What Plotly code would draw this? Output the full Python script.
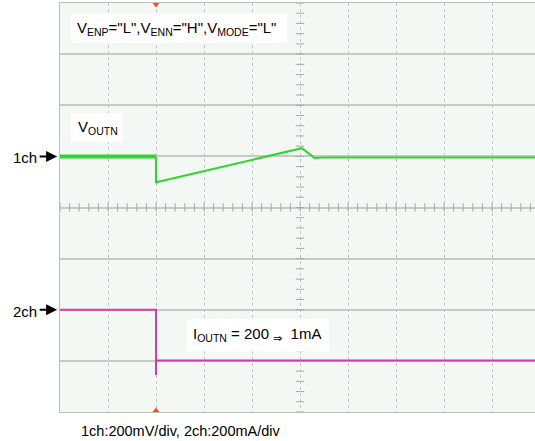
import plotly.graph_objects as go

# scope settings
mv_per_div = 200   # 1ch
ma_per_div = 200   # 2ch
ch1_pos = 1.0      # ground marker of 1ch (div)
ch2_pos = -3.0     # ground marker of 2ch (div)

# 1ch: VOUTN deviation (mV) vs time (div)
ch1_t_pre = [0.0, 2.0]
ch1_mv_pre = [0, 0]
ch1_t = [2.0, 2.0, 2.03, 5.04, 5.3, 5.5, 9.9]
ch1_mv = [0, -104, -100, 32, -6, -4, -4]

# 2ch: IOUTN (mA) vs time (div)
ch2_t = [0.0, 2.0, 2.0, 2.0, 9.9]
ch2_ma = [200, 200, -55, 1, 1]

trig_t = 2.0

font = "Arial, Liberation Sans, sans-serif"
grid = "#c4c4c4"
tickc = "#a8a8a8"

fig = go.Figure()

# minor ticks on the centre cross
tx = [i * 0.2 for i in range(0, 50)]
ty = [-4 + i * 0.2 for i in range(0, 41)]
fig.add_trace(go.Scatter(x=tx, y=[0] * len(tx), mode="markers",
                         marker=dict(symbol="line-ns-open", size=6, color=tickc, line=dict(width=1, color=tickc)),
                         hoverinfo="skip", showlegend=False))
fig.add_trace(go.Scatter(x=[5] * len(ty), y=ty, mode="markers",
                         marker=dict(symbol="line-ew-open", size=6, color=tickc, line=dict(width=1, color=tickc)),
                         hoverinfo="skip", showlegend=False))

fig.add_trace(go.Scatter(x=ch1_t_pre, y=[ch1_pos + v / mv_per_div for v in ch1_mv_pre],
                         mode="lines", line=dict(color="#2ed62e", width=4), showlegend=False))
fig.add_trace(go.Scatter(x=ch1_t, y=[ch1_pos + v / mv_per_div for v in ch1_mv],
                         mode="lines", line=dict(color="#2ed62e", width=2), showlegend=False))
fig.add_trace(go.Scatter(x=ch2_t, y=[ch2_pos + i / ma_per_div for i in ch2_ma],
                         mode="lines", line=dict(color="#d43cb2", width=2), showlegend=False))

# trigger markers
fig.add_trace(go.Scatter(x=[trig_t, trig_t], y=[3.97, -3.97], mode="markers",
                         marker=dict(symbol=["triangle-down", "triangle-up"], size=6, color="#ff4a12"),
                         cliponaxis=False, hoverinfo="skip", showlegend=False))

# white label boxes
for x0, x1, y0, y1 in [(0.229, 4.73, 3.22, 3.79), (0.229, 1.31, 1.28, 1.85), (2.65, 5.6, -2.81, -2.18)]:
    fig.add_shape(type="rect", x0=x0, x1=x1, y0=y0, y1=y1, fillcolor="white",
                  line=dict(width=0), layer="above")

ann = dict(showarrow=False, xanchor="left", yanchor="middle",
           font=dict(family=font, size=15, color="black"))
fig.add_annotation(x=0.31, y=3.5,
                   text='V<sub>ENP</sub>="L",V<sub>ENN</sub>="H",V<sub>MODE</sub>="L"', **ann)
fig.add_annotation(x=0.33, y=1.57, text="V<sub>OUTN</sub>", **ann)
fig.add_annotation(x=2.72, y=-2.49, text="I<sub>OUTN</sub> = 200 <sub>⇒</sub>  1mA", **ann)

# channel markers (left of the screen)
for lbl, yy in [("1ch", ch1_pos), ("2ch", ch2_pos + 1)]:
    fig.add_annotation(xref="paper", x=-0.103, y=yy - 0.03, text=lbl, **ann)
    fig.add_annotation(xref="paper", x=-0.006, y=yy, ax=-19, ay=0, text="",
                       showarrow=True, arrowhead=2, arrowsize=1.1, arrowwidth=2, arrowcolor="black")

fig.add_annotation(xref="paper", yref="paper", x=0.04, y=-0.022, xanchor="left", yanchor="top",
                   text="1ch:200mV/div, 2ch:200mA/div", showarrow=False,
                   font=dict(family=font, size=14.5, color="black"))

fig.update_layout(
    width=535, height=441,
    margin=dict(l=60, r=0, t=3, b=29, autoexpand=False),
    paper_bgcolor="white", plot_bgcolor="#f4f8f4",
    xaxis=dict(range=[0, 475 / 48], dtick=1, tick0=0, showgrid=True, gridcolor=grid,
               griddash="dot", gridwidth=1, zeroline=False, showticklabels=False, ticks="",
               showline=True, linecolor="#bdbdbd", mirror=True),
    yaxis=dict(range=[-4, 4], dtick=1, tick0=0, showgrid=True, gridcolor="#c8c8c8",
               gridwidth=1.5, zeroline=False, showticklabels=False, ticks="",
               showline=True, linecolor="#bdbdbd", mirror=True),
)

fig.write_html("out.html", config={"displayModeBar": False},
               post_script="document.body.style.margin='0';")
